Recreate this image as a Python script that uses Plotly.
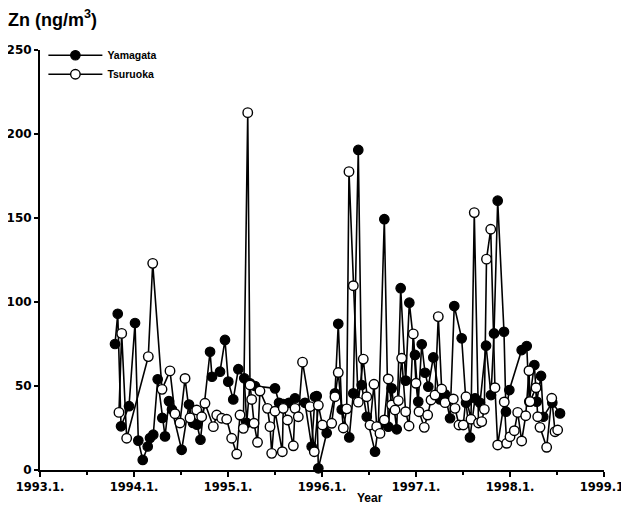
import plotly.graph_objects as go

# Yamagata (filled markers): decimal year, Zn ng/m3
yam_t = [1993.798, 1993.827, 1993.862, 1993.947, 1994.011, 1994.046, 1994.093, 1994.146, 1994.170, 1994.205,
         1994.252, 1994.301, 1994.330, 1994.372, 1994.404, 1994.507, 1994.585, 1994.628, 1994.670, 1994.707,
         1994.809, 1994.830, 1994.915, 1994.968, 1995.003, 1995.056, 1995.110, 1995.173, 1995.199, 1995.234,
         1995.287, 1995.500, 1995.543, 1995.588, 1995.649, 1995.713, 1995.819, 1995.890, 1995.926, 1995.944,
         1995.961, 1996.050, 1996.138, 1996.173, 1996.210, 1996.290, 1996.333, 1996.386, 1996.422, 1996.476,
         1996.564, 1996.599, 1996.663, 1996.705, 1996.741, 1996.795, 1996.837, 1996.890, 1996.929, 1996.989,
         1997.024, 1997.061, 1997.096, 1997.131, 1997.184, 1997.255, 1997.309, 1997.362, 1997.407, 1997.486,
         1997.532, 1997.574, 1997.628, 1997.681, 1997.745, 1997.798, 1997.830, 1997.869, 1997.936, 1997.957,
         1997.993, 1998.124, 1998.178, 1998.205, 1998.259, 1998.284, 1998.330, 1998.354, 1998.450, 1998.532]
yam_v = [75, 93, 26, 38, 87.5, 17.5, 6, 14, 19, 21,
         54, 31, 20, 41, 36, 12, 39, 28, 27, 18,
         70.4, 55.5, 58.5, 77.4, 52.6, 42, 60, 54.6, 28, 51.6,
         50, 48.6, 40, 39.3, 40, 42.7, 40, 14, 43.6, 44,
         1, 22, 45.6, 87, 36, 19.4, 45.6, 190.5, 50.6, 31.7,
         10.9, 25.8, 149.3, 25.8, 48.6, 24.2, 108.2, 53.2, 99.6, 68.5,
         40.7, 74.8, 57.9, 49.6, 67, 42, 45, 30.8, 97.6, 78.4,
         40, 19.4, 42.7, 40, 74, 44.6, 81.3, 160.3, 82.3, 34.7,
         47.6, 71.4, 73.8, 40.7, 62.5, 40.7, 56, 31.7, 40.1, 33.7]

# Tsuruoka (open markers)
tsu_t = [1993.840, 1993.869, 1993.922, 1994.152, 1994.199, 1994.298, 1994.383, 1994.436, 1994.489, 1994.543,
         1994.596, 1994.667, 1994.720, 1994.755, 1994.844, 1994.880, 1994.933, 1994.986, 1995.039, 1995.093,
         1995.128, 1995.163, 1995.210, 1995.234, 1995.252, 1995.277, 1995.314, 1995.340, 1995.420, 1995.447,
         1995.465, 1995.500, 1995.578, 1995.588, 1995.633, 1995.695, 1995.713, 1995.748, 1995.793, 1995.872,
         1995.918, 1995.961, 1996.005, 1996.103, 1996.138, 1996.173, 1996.227, 1996.263, 1996.287, 1996.333,
         1996.386, 1996.439, 1996.476, 1996.511, 1996.553, 1996.582, 1996.617, 1996.663, 1996.705, 1996.741,
         1996.777, 1996.812, 1996.848, 1996.890, 1996.926, 1996.971, 1997.000, 1997.032, 1997.088, 1997.124,
         1997.160, 1997.202, 1997.237, 1997.273, 1997.309, 1997.397, 1997.415, 1997.457, 1997.503, 1997.532,
         1997.585, 1997.620, 1997.665, 1997.699, 1997.727, 1997.750, 1997.795, 1997.840, 1997.869, 1997.939,
         1997.965, 1998.000, 1998.046, 1998.082, 1998.124, 1998.167, 1998.202, 1998.213, 1998.277, 1998.295,
         1998.319, 1998.390, 1998.444, 1998.479, 1998.507]
tsu_v = [34.3, 81.3, 18.9, 67.5, 123, 48, 59, 33.5, 28, 54.5,
         31, 35.7, 31.7, 39.7, 25.8, 32.7, 30.8, 30.2, 18.9, 9.5,
         32.7, 24.8, 212.7, 50.6, 42, 27.8, 16.5, 47, 36.7, 25.8,
         9.9, 35, 10.9, 36.7, 29.8, 14.4, 36.7, 31.7, 64.2, 37.7,
         10.9, 38.5, 26.8, 27.8, 43.6, 58, 25, 36.4, 177.6, 109.7,
         40.4, 66, 43.6, 26.8, 51, 25.8, 21.8, 29.8, 54.2, 38.7,
         35.7, 41.3, 66.5, 34.7, 26.2, 81, 51.6, 34.7, 25.4, 32.7,
         41.7, 44.6, 91.3, 48.2, 40.1, 42.3, 36.7, 26.8, 26.8, 43.6,
         30.2, 153.2, 28, 28.8, 36.1, 125.5, 143.3, 49, 14.9, 40.5,
         15.9, 19.8, 23.4, 34.3, 17.3, 32.3, 59.1, 40.7, 49, 31.7,
         25.4, 13.5, 42.7, 22.8, 23.8]

x_tickvals = [1993, 1994, 1995, 1996, 1997, 1998, 1999]
x_ticktext = ["1993.1.", "1994.1.", "1995.1.", "1996.1.", "1997.1.", "1998.1.", "1999.1."]
y_tickvals = [0, 50, 100, 150, 200, 250]

FONT = "Liberation Sans, Arial, sans-serif"
TICKFONT = "DejaVu Sans, Liberation Sans, sans-serif"

fig = go.Figure()
fig.add_trace(go.Scatter(
    x=yam_t, y=yam_v, mode="lines+markers", name="Yamagata",
    line=dict(color="black", width=1.6),
    marker=dict(symbol="circle", size=9.5, color="black", line=dict(color="black", width=1.2)),
    cliponaxis=False,
))
fig.add_trace(go.Scatter(
    x=tsu_t, y=tsu_v, mode="lines+markers", name="Tsuruoka",
    line=dict(color="black", width=1.6),
    marker=dict(symbol="circle", size=9.5, color="white", line=dict(color="black", width=1.4)),
    cliponaxis=False,
))

# page body has an 8px default margin; margins chosen so the plot area lands at x 40-604, y 50-470
fig.update_layout(
    width=629, height=505,
    margin=dict(l=32, r=33, t=42, b=43, autoexpand=False),
    paper_bgcolor="white", plot_bgcolor="white",
    font=dict(family=FONT, color="black", size=10),
    showlegend=True,
    legend=dict(x=0.006, y=1.022, xanchor="left", yanchor="top",
                bgcolor="rgba(0,0,0,0)", font=dict(size=10.5, weight="bold"),
                itemwidth=54, tracegroupgap=4),
    xaxis=dict(range=[1993, 1999], showgrid=False, zeroline=False, automargin=False,
               showline=True, linecolor="black", linewidth=2,
               ticks="outside", ticklen=5, tickwidth=2, tickcolor="black",
               tickvals=x_tickvals, ticktext=x_ticktext,
               tickfont=dict(family=TICKFONT, size=11.5, weight="bold"),
               minor=dict(dtick=0.5, tick0=1993, ticks="outside", ticklen=3, tickwidth=1.5, tickcolor="black")),
    yaxis=dict(range=[0, 250], showgrid=False, zeroline=False, automargin=False,
               showline=True, linecolor="black", linewidth=2,
               ticks="outside", ticklen=4, tickwidth=1.5, tickcolor="black",
               tickvals=y_tickvals, tickfont=dict(family=TICKFONT, size=12, weight="bold")),
    annotations=[
        dict(text="<b>Zn (ng/m<sup>3</sup>)</b>", x=-0.06, y=1.074, xref="paper", yref="paper",
             xanchor="left", yanchor="middle", showarrow=False, font=dict(size=18)),
        dict(text="<b>Year</b>", x=0.585, y=-0.045, xref="paper", yref="paper",
             xanchor="center", yanchor="top", showarrow=False, font=dict(size=12)),
    ],
)

fig.write_html("out.html")
